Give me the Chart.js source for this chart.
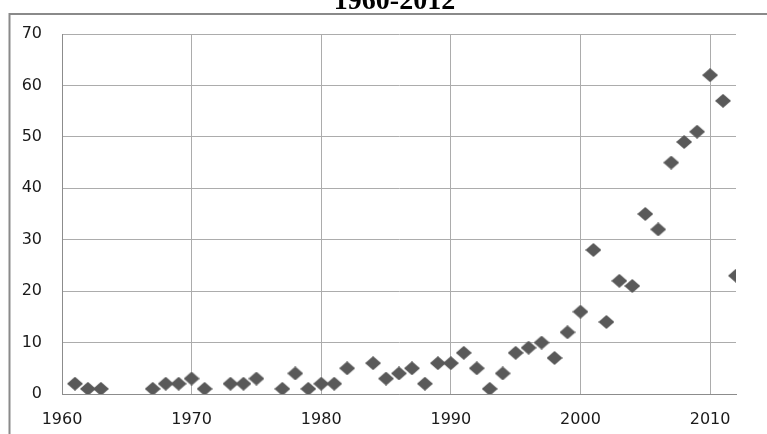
<!DOCTYPE html>
<html>
<head>
<meta charset="utf-8">
<script src="https://cdn.jsdelivr.net/npm/chart.js@4/dist/chart.umd.min.js"></script>
<style>
  html, body { margin: 0; padding: 0; background: #fff; }
  #wrap { width: 767px; height: 434px; }
</style>
</head>
<body>
<div id="wrap"><canvas id="c" width="767" height="434"></canvas></div>
<script>
// Yearly counts, 1961-2012
const years = [1961, 1962, 1963, 1967, 1968, 1969, 1970, 1971, 1973, 1974, 1975,
  1977, 1978, 1979, 1980, 1981, 1982, 1984, 1985, 1986, 1987, 1988, 1989, 1990,
  1991, 1992, 1993, 1994, 1995, 1996, 1997, 1998, 1999, 2000, 2001, 2002, 2003,
  2004, 2005, 2006, 2007, 2008, 2009, 2010, 2011, 2012];
const counts = [2, 1, 1, 1, 2, 2, 3, 1, 2, 2, 3,
  1, 4, 1, 2, 2, 5, 6, 3, 4, 5, 2, 6, 6,
  8, 5, 1, 4, 8, 9, 10, 7, 12, 16, 28, 14, 22,
  21, 35, 32, 45, 49, 51, 62, 57, 23];
const titleText = '1960-2012';
const xTicks = { min: 1960, max: 2012, step: 10 };
const yTicks = { min: 0, max: 70, step: 10 };

// Flattened diamond marker
function makeDiamond(w, h, color) {
  const cv = document.createElement('canvas');
  cv.width = w; cv.height = h;
  const g = cv.getContext('2d');
  g.fillStyle = color;
  g.beginPath();
  g.moveTo(w / 2, 0);
  g.lineTo(w, h / 2);
  g.lineTo(w / 2, h);
  g.lineTo(0, h / 2);
  g.closePath();
  g.fill();
  return cv;
}
const diamond = makeDiamond(16, 14, '#595959');

// Outer frame and heading
const framePlugin = {
  id: 'frame',
  beforeDraw(chart) {
    const ctx = chart.ctx;
    ctx.save();
    ctx.strokeStyle = '#8a8a8a';
    ctx.lineWidth = 2;
    ctx.beginPath();
    ctx.moveTo(9.5, 440);
    ctx.lineTo(9.5, 14);
    ctx.lineTo(780, 14);
    ctx.stroke();
    ctx.fillStyle = '#000';
    ctx.font = 'bold 28px "Liberation Serif", "Times New Roman", serif';
    ctx.textAlign = 'center';
    ctx.textBaseline = 'alphabetic';
    ctx.fillText(titleText, 394.5, 9);
    ctx.restore();
  }
};

const tickFont = { family: '"DejaVu Sans", Verdana, sans-serif', size: 16 };

new Chart(document.getElementById('c'), {
  type: 'scatter',
  data: {
    datasets: [{
      data: years.map((y, i) => ({ x: y, y: counts[i] })),
      pointStyle: diamond,
      pointRadius: 7,
      pointHoverRadius: 7
    }]
  },
  options: {
    responsive: false,
    animation: false,
    layout: { padding: { left: 0, top: 34, right: 31, bottom: 0 } },
    plugins: { legend: { display: false }, tooltip: { enabled: false } },
    scales: {
      x: {
        type: 'linear',
        min: xTicks.min,
        max: xTicks.max,
        afterFit(s) { s.height = 40; },
        grid: { color: '#acacac', lineWidth: 1, drawTicks: false },
        border: { color: '#8c8c8c', width: 1 },
        ticks: {
          stepSize: xTicks.step,
          includeBounds: false,
          padding: 16,
          color: '#1a1a1a',
          font: tickFont,
          maxRotation: 0,
          callback: v => String(v)
        }
      },
      y: {
        min: yTicks.min,
        max: yTicks.max,
        afterFit(s) { s.width = 62; },
        grid: { color: '#acacac', lineWidth: 1, drawTicks: false },
        border: { color: '#8c8c8c', width: 1 },
        ticks: {
          stepSize: yTicks.step,
          padding: 20,
          color: '#1a1a1a',
          font: tickFont
        }
      }
    }
  },
  plugins: [framePlugin]
});
</script>
</body>
</html>
